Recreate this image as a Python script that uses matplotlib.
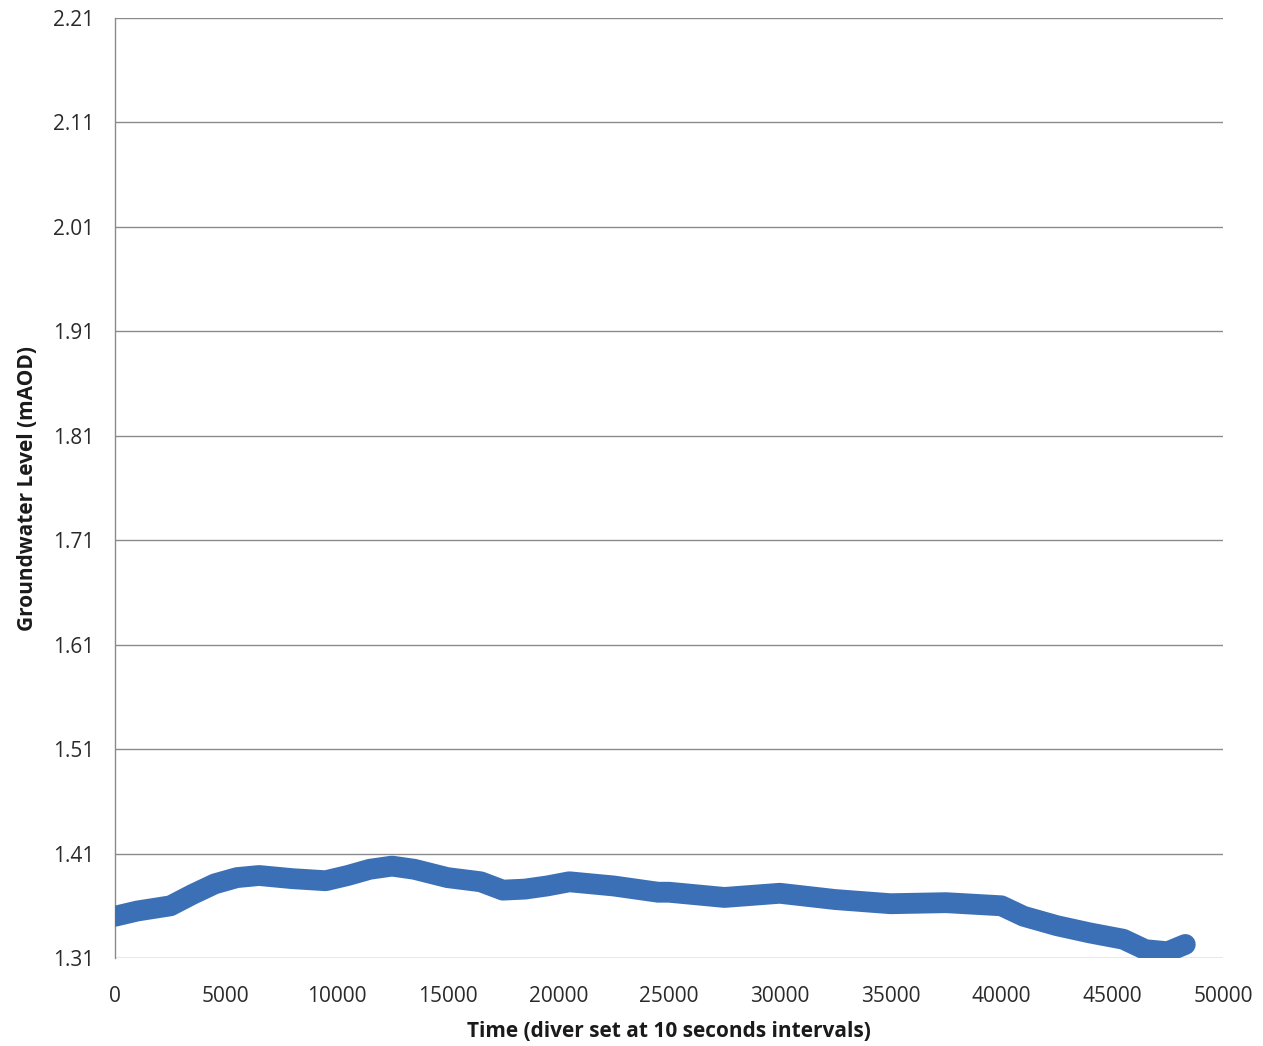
import numpy as np
import matplotlib
matplotlib.use("Agg")
import matplotlib.pyplot as plt

# groundwater level logged by the diver (10 s steps), band centre
time_steps = [0, 1000, 2500, 3500, 4500, 5500, 6500, 8000, 9500, 10500,
              11500, 12500, 13500, 15000, 16500, 17500, 18500, 19500, 20500,
              21500, 22500, 23500, 24500, 25000, 27500, 30000, 32500, 35000,
              37500, 40000, 41000, 42500, 44000, 45500, 46500, 47500, 48300]
levels = [1.350, 1.355, 1.360, 1.371, 1.381, 1.387, 1.389, 1.386, 1.384, 1.389,
          1.395, 1.398, 1.395, 1.387, 1.383, 1.375, 1.376, 1.379, 1.383,
          1.381, 1.379, 1.376, 1.373, 1.373, 1.368, 1.372, 1.366, 1.362,
          1.363, 1.360, 1.350, 1.341, 1.334, 1.328, 1.318, 1.316, 1.323]

y_ticks = [1.31, 1.41, 1.51, 1.61, 1.71, 1.81, 1.91, 2.01, 2.11, 2.21]
x_ticks = [0, 5000, 10000, 15000, 20000, 25000, 30000, 35000, 40000, 45000, 50000]

plt.rcParams['font.family'] = ['Open Sans', 'DejaVu Sans']

fig = plt.figure(figsize=(12.63, 10.46), dpi=100)
ax = fig.add_axes([0.0911, 0.0841, 0.8772, 0.8987])

ax.plot(time_steps, levels, color='#3c70b6', linewidth=15,
        solid_capstyle='round', solid_joinstyle='round', zorder=3)

ax.set_xlim(0, 50000)
ax.set_ylim(1.31, 2.21)
ax.set_xticks(x_ticks)
ax.set_yticks(y_ticks)
ax.set_xticklabels([str(t) for t in x_ticks])
ax.set_yticklabels([f"{t:.2f}" for t in y_ticks])

ax.grid(axis='y', color='#8a8a8a', linewidth=1.0, zorder=1)
ax.tick_params(length=0, labelsize=15, colors='#2a2a2a')
ax.tick_params(axis='x', pad=20)
ax.tick_params(axis='y', pad=15)

for side in ['top', 'right', 'bottom']:
    ax.spines[side].set_visible(False)
ax.spines['left'].set_color('#8a8a8a')
ax.spines['left'].set_linewidth(1.0)

ax.set_xlabel('Time (diver set at 10 seconds intervals)', fontsize=15,
              fontweight='bold', labelpad=10, color='#1a1a1a')
ax.set_ylabel('Groundwater Level (mAOD)', fontsize=15, fontweight='bold',
              labelpad=11, color='#1a1a1a')

plt.savefig('out.png', dpi=100)
